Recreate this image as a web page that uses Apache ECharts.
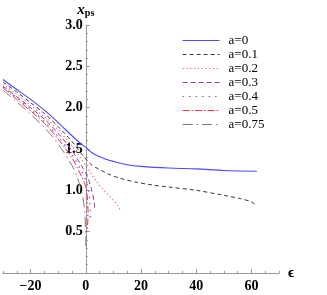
<!DOCTYPE html>
<html><head><meta charset="utf-8">
<script src="https://cdn.jsdelivr.net/npm/echarts@6/dist/echarts.min.js"></script>
<style>html,body{margin:0;padding:0;background:#fff}#c{width:327px;height:295px}</style>
</head><body><div id="c"></div>
<script>
const a0   = [[-30,2.34],[-25,2.22],[-20,2.10],[-15,1.97],[-10,1.82],[-5,1.66],[-2,1.57],[0,1.52],[2,1.46],[4,1.42],[7,1.38],[10,1.35],[15,1.31],[20,1.29],[30,1.27],[40,1.26],[50,1.24],[62,1.23]];
const a01  = [[-30,2.31],[-25,2.19],[-20,2.06],[-15,1.93],[-10,1.77],[-5,1.59],[-2,1.46],[0,1.38],[2,1.31],[4,1.27],[8,1.20],[12,1.15],[18,1.10],[25,1.06],[30,1.04],[40,1.00],[50,0.94],[56,0.90],[60,0.86],[62,0.81]];
const a02  = [[-30,2.28],[-25,2.16],[-20,2.03],[-15,1.89],[-10,1.73],[-5,1.54],[-2,1.40],[0,1.30],[2,1.20],[4,1.10],[6,1.02],[8,0.95],[10,0.88],[11.5,0.82],[12.3,0.77]];
const a03  = [[-30,2.26],[-25,2.13],[-20,2.00],[-15,1.86],[-10,1.69],[-5,1.48],[-2,1.32],[0,1.21],[1,1.13],[2,1.02],[3,0.86],[3.3,0.76]];
const a04  = [[-30,2.25],[-25,2.12],[-20,1.98],[-15,1.83],[-10,1.65],[-5,1.43],[-2,1.26],[0,1.12],[1,1.00],[1.5,0.85],[1.6,0.72],[1.5,0.64]];
const a05  = [[-30,2.24],[-25,2.10],[-20,1.96],[-15,1.81],[-10,1.62],[-5,1.39],[-2,1.20],[0,1.04],[0.6,0.90],[0.8,0.75],[0.7,0.60],[0.4,0.50]];
const a075 = [[-30,2.21],[-25,2.07],[-20,1.92],[-15,1.76],[-10,1.56],[-5,1.30],[-3,1.15],[-2,1.04],[-1,0.90],[-0.5,0.78],[-0.2,0.62],[0,0.45],[0.05,0.30]];
const names = ['a=0','a=0.1','a=0.2','a=0.3','a=0.4','a=0.5','a=0.75'];
const xMajor = [-20,0,20,40,60];
const xMin = -30, xMax = 70;

const W = 327, H = 295;
const gridL = 3, gridR = 48;
const gridW = W - gridL - gridR;
const yOffset = -((0 - xMin) / (xMax - xMin)) * gridW;

const chart = echarts.init(document.getElementById('c'), null, {renderer:'canvas'});
const serif = '"Liberation Serif","DejaVu Serif",serif';
const styles = [
  {color:'#4a4aff', width:1.1, type:'solid'},
  {color:'#222222', width:0.9, type:[4,3]},
  {color:'#ff5a6a', width:1.1, type:[1.2,2.6]},
  {color:'#9a3a9a', width:1.0, type:[5,3]},
  {color:'#5a5aff', width:1.2, type:[1.5,5]},
  {color:'#ff3030', width:1.0, type:[7,2,1.5,2]},
  {color:'#7a7a7a', width:1.0, type:[10,4,1.5,4]}
];
const datas = [a0,a01,a02,a03,a04,a05,a075];
const series = datas.map((d,i)=>({
  name: names[i], type:'line', data:d, xAxisIndex:0, yAxisIndex:0,
  showSymbol:false, symbol:'none', smooth:0.3, z: 10-i,
  lineStyle:{color:styles[i].color, width:styles[i].width, type:styles[i].type},
  itemStyle:{color:styles[i].color}
}));
chart.setOption({
  animation:false,
  grid:{left:gridL, right:gridR, top:25, bottom:22, containLabel:false, outerBoundsMode:'none'},
  legend:{
    orient:'vertical', left:177, top:29, itemWidth:37, itemHeight:10, itemGap:1,
    itemStyle:{opacity:0},
    textStyle:{fontFamily:serif, fontSize:13, lineHeight:12, color:'#000', padding:[0,0,0,4]},
    data:names.map((n,i)=>({name:n, lineStyle:{color:styles[i].color, width:styles[i].width, type:styles[i].type}}))
  },
  xAxis:[{
    type:'value', min:xMin, max:xMax, position:'bottom',
    name:'ϵ', nameLocation:'end', nameGap:9,
    nameTextStyle:{fontFamily:serif, fontSize:15, fontWeight:'bold', color:'#000', verticalAlign:'middle'},
    axisLine:{onZero:false, lineStyle:{color:'#999', width:1}},
    axisTick:{show:true, inside:true, length:4, customValues:xMajor, lineStyle:{color:'#999'}},
    axisLabel:{customValues:xMajor, fontFamily:serif, fontSize:14, fontWeight:'bold', color:'#000', margin:6,
      formatter:v=> v<0 ? '\u2212'+Math.abs(v) : String(v)},
    splitLine:{show:false}
  },{
    type:'value', min:xMin, max:xMax, interval:5, position:'bottom',
    axisLine:{show:false, onZero:false},
    axisTick:{show:true, inside:true, length:2, lineStyle:{color:'#999'}},
    axisLabel:{show:false}, splitLine:{show:false}
  }],
  yAxis:[{
    type:'value', min:0, max:3, interval:0.5, position:'left', offset:yOffset,
    axisLine:{onZero:false, lineStyle:{color:'#999', width:1}},
    axisTick:{show:true, inside:true, length:4, lineStyle:{color:'#999'}},
    minorTick:{show:true, splitNumber:5, length:2, lineStyle:{color:'#999'}},
    axisLabel:{fontFamily:serif, fontSize:14, fontWeight:'bold', color:'#000', margin:3,
      formatter:v=> v===0 ? '' : v.toFixed(1)},
    splitLine:{show:false}, minorSplitLine:{show:false},
    name:'{x|x}{s|ps}', nameLocation:'end', nameGap:6,
    nameTextStyle:{rich:{x:{fontFamily:serif, fontSize:15, fontStyle:'italic', fontWeight:'bold', color:'#000'},
                         s:{fontFamily:serif, fontSize:10, fontWeight:'bold', color:'#000', verticalAlign:'bottom', padding:[6,0,0,0]}}}
  }],
  series: series
});
</script></body></html>
